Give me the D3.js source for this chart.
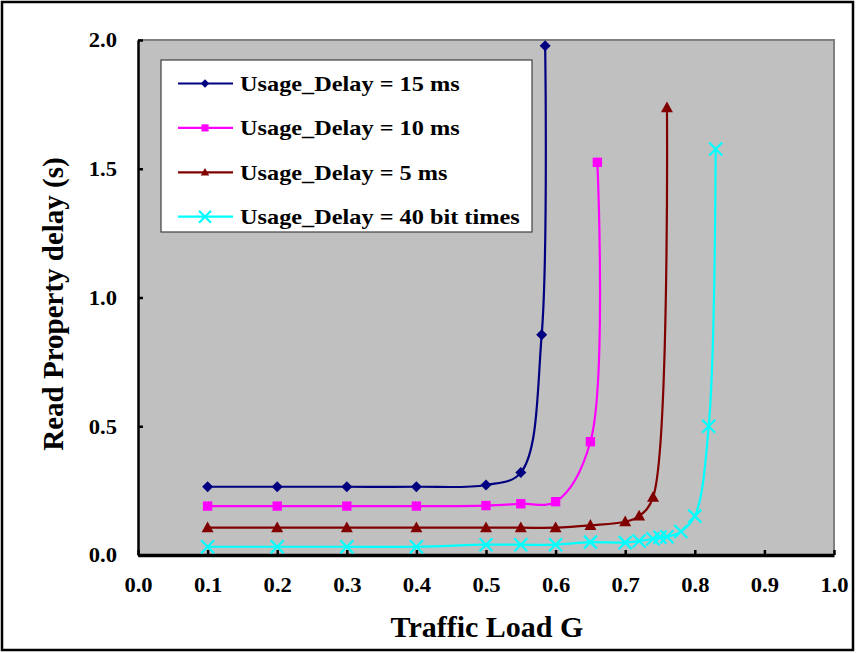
<!DOCTYPE html>
<html><head><meta charset="utf-8">
<script src="https://cdn.jsdelivr.net/npm/d3@7"></script>
<style>body{margin:0;background:#fff;} svg{display:block;}</style>
</head><body>
<svg id="chart" width="856" height="653"></svg>
<script>
// ---- data ----
const xTicks = [0.0,0.1,0.2,0.3,0.4,0.5,0.6,0.7,0.8,0.9,1.0];
const yTicks = [0.0,0.5,1.0,1.5,2.0];

const s15x = [0.1,0.2,0.3,0.4,0.5,0.55,0.58,0.585];
const s15y = [0.265,0.265,0.265,0.265,0.272,0.32,0.855,1.978];

const s10x = [0.1,0.2,0.3,0.4,0.5,0.55,0.6,0.65,0.66];
const s10y = [0.19,0.19,0.19,0.19,0.192,0.199,0.207,0.44,1.525];

const s5x = [0.1,0.2,0.3,0.4,0.5,0.55,0.6,0.65,0.7,0.72,0.74,0.76];
const s5y = [0.106,0.106,0.106,0.106,0.106,0.106,0.106,0.115,0.129,0.151,0.224,1.737];

const s40x = [0.1,0.2,0.3,0.4,0.5,0.55,0.6,0.65,0.7,0.72,0.74,0.75,0.76,0.78,0.8,0.82,0.83];
const s40y = [0.032,0.032,0.032,0.032,0.04,0.04,0.04,0.05,0.048,0.054,0.063,0.069,0.071,0.091,0.151,0.5,1.577];

const seriesNames = ["Usage_Delay = 15 ms","Usage_Delay = 10 ms","Usage_Delay = 5 ms","Usage_Delay = 40 bit times"];
const seriesColors = ["#000080","#FF00FF","#800000","#00FFFF"];
const seriesMarkers = ["diamond","square","triangle","x"];
const xTitle = "Traffic Load G";
const yTitle = "Read Property delay (s)";

const series = [
  {name:seriesNames[0], color:seriesColors[0], marker:seriesMarkers[0], pts:s15x.map((x,i)=>[x,s15y[i]])},
  {name:seriesNames[1], color:seriesColors[1], marker:seriesMarkers[1], pts:s10x.map((x,i)=>[x,s10y[i]])},
  {name:seriesNames[2], color:seriesColors[2], marker:seriesMarkers[2], pts:s5x.map((x,i)=>[x,s5y[i]])},
  {name:seriesNames[3], color:seriesColors[3], marker:seriesMarkers[3], pts:s40x.map((x,i)=>[x,s40y[i]])}
];

// ---- layout ----
const svg = d3.select("#chart");
const L = 138, R = 834, T = 40, B = 555;
const x = d3.scaleLinear().domain([0,1]).range([L,R]);
const y = d3.scaleLinear().domain([0,2]).range([B,T]);
const FONT = "'Liberation Serif','Times New Roman',serif";
const SX = 1.13; // horizontal stretch of small labels

// outer border
svg.append("rect").attr("x",2).attr("y",2).attr("width",851).attr("height",648)
  .attr("fill","#fff").attr("stroke","#000").attr("stroke-width",2.5);

// plot area
svg.append("rect").attr("x",L).attr("y",T).attr("width",R-L).attr("height",B-T)
  .attr("fill","#C0C0C0");
svg.append("path").attr("d",`M${L},${T}H${R}V${B}`).attr("fill","none")
  .attr("stroke","#808080").attr("stroke-width",2);

// axes
const xAxis = d3.axisBottom(x).tickValues(xTicks).tickSizeInner(-5).tickSizeOuter(0).tickFormat(d3.format(".1f"));
const gx = svg.append("g").attr("transform",`translate(0,${B})`).call(xAxis);
gx.select(".domain").attr("stroke","#000").attr("stroke-width",3.5);
gx.selectAll(".tick line").attr("stroke","#000").attr("stroke-width",2.5);
gx.selectAll(".tick text").attr("font-family",FONT).attr("font-weight","bold")
  .attr("font-size",20).attr("fill","#000").attr("y",37).attr("dy",null)
  .attr("transform",`scale(${SX},1)`);

const yAxis = d3.axisLeft(y).tickValues(yTicks).tickSizeInner(-5).tickSizeOuter(0).tickFormat(d3.format(".1f"));
const gy = svg.append("g").attr("transform",`translate(${L},0)`).call(yAxis);
gy.select(".domain").attr("stroke","#000").attr("stroke-width",2.5);
gy.selectAll(".tick line").attr("stroke","#000").attr("stroke-width",2.5);
gy.selectAll(".tick text").attr("font-family",FONT).attr("font-weight","bold")
  .attr("font-size",20).attr("fill","#000").attr("x",-21/SX).attr("dy","0.34em")
  .attr("transform",`scale(${SX},1)`);

// axis titles
svg.append("text").attr("x",487).attr("y",637).attr("text-anchor","middle")
  .attr("font-family",FONT).attr("font-weight","bold").attr("font-size",30).text(xTitle);
svg.append("text").attr("transform","translate(63,304) rotate(-90)").attr("text-anchor","middle")
  .attr("font-family",FONT).attr("font-weight","bold").attr("font-size",29).text(yTitle);

// markers
function drawMarker(g, type, cx, cy, color, s){
  if(type==="diamond"){
    g.append("path").attr("d",`M${cx},${cy-s}L${cx+s},${cy}L${cx},${cy+s}L${cx-s},${cy}Z`).attr("fill",color);
  } else if(type==="square"){
    g.append("rect").attr("x",cx-s*0.85).attr("y",cy-s*0.85).attr("width",s*1.7).attr("height",s*1.7).attr("fill",color);
  } else if(type==="triangle"){
    g.append("path").attr("d",`M${cx},${cy-s*1.05}L${cx+s},${cy+s*0.75}L${cx-s},${cy+s*0.75}Z`).attr("fill",color);
  } else {
    g.append("path").attr("d",`M${cx-s},${cy-s}L${cx+s},${cy+s}M${cx-s},${cy+s}L${cx+s},${cy-s}`)
      .attr("stroke",color).attr("stroke-width",2.2).attr("fill","none");
  }
}

const line = d3.line().x(d=>x(d[0])).y(d=>y(d[1])).curve(d3.curveCatmullRom.alpha(0.5));
const plot = svg.append("g");
series.forEach(s=>{
  plot.append("path").attr("d",line(s.pts)).attr("fill","none").attr("stroke",s.color).attr("stroke-width",2.2);
});
series.forEach(s=>{
  const g = plot.append("g");
  const size = s.marker==="x"?6.5:(s.marker==="triangle"?6:5.5);
  s.pts.forEach(p=>drawMarker(g, s.marker, x(p[0]), y(p[1]), s.color, size));
});

// legend
const lg = svg.append("g");
lg.append("rect").attr("x",161).attr("y",60).attr("width",371).attr("height",172)
  .attr("fill","#fff").attr("stroke","#404040").attr("stroke-width",1.2);
series.forEach((s,i)=>{
  const cy = 83.5 + i*44.4;
  lg.append("line").attr("x1",178).attr("x2",233).attr("y1",cy).attr("y2",cy)
    .attr("stroke",s.color).attr("stroke-width",2.2);
  drawMarker(lg, s.marker, 205, cy, s.color, s.marker==="x"?6:4.2);
  lg.append("text").attr("transform",`translate(240,${cy}) scale(${SX},1)`).attr("dy","0.35em")
    .attr("font-family",FONT).attr("font-weight","bold").attr("font-size",21.5).attr("fill","#000").text(s.name);
});
</script>
</body></html>
